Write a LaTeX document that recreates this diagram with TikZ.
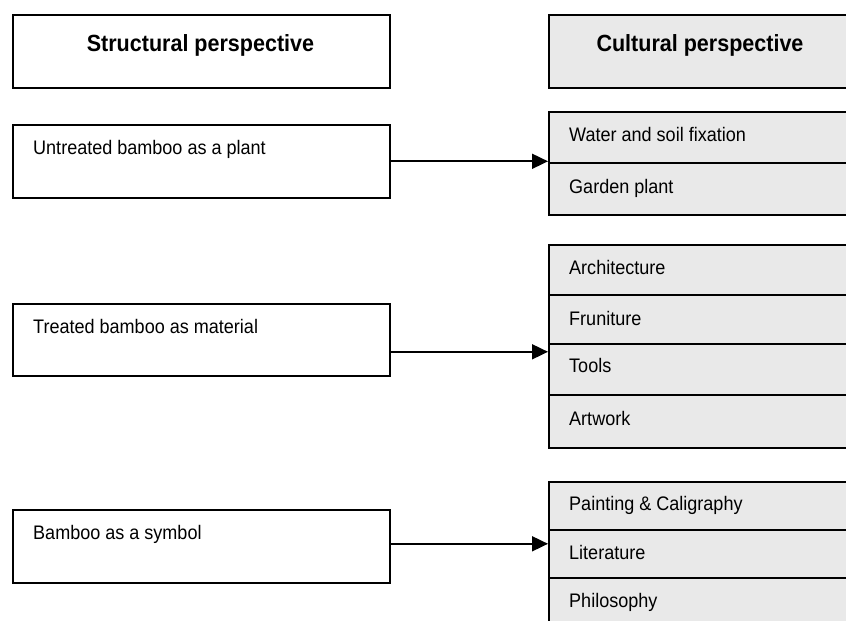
\documentclass[tikz,border=0pt]{standalone}
\usepackage{fontspec}
\setmainfont{Liberation Sans}[FakeStretch=0.92]
\usetikzlibrary{arrows.meta}
\definecolor{cellgray}{RGB}{233,233,233}
\tikzset{
  hbox/.style={draw=black, line width=2.2pt, rectangle, inner sep=0pt, anchor=north west},
  lbox/.style={draw=black, line width=1.6pt, rectangle, inner sep=0pt, anchor=north west, fill=white},
  cellbox/.style={draw=black, line width=1.6pt, rectangle, inner sep=0pt, anchor=north west, fill=cellgray, minimum width=304pt},
  htxt/.style={inner sep=0pt, anchor=base, font=\fontsize{23.4}{26}\selectfont\bfseries},
  btxt/.style={inner sep=0pt, anchor=base west, font=\fontsize{19.6}{23}\selectfont},
  arr/.style={line width=1.8pt, -{Triangle[length=16pt,width=15pt]}, shorten >=0pt}
}
\begin{document}
\begin{tikzpicture}[x=1pt,y=-1pt]
\useasboundingbox (0,0) rectangle (846,621);
\clip (0,0) rectangle (846,621);
% headers
\node[hbox, minimum width=377pt, minimum height=73pt] (hs) at (12,14) {};
\node[hbox, fill=cellgray, minimum width=304pt, minimum height=73pt] (hc) at (548,14) {};
\node[htxt] (hst) at (200.5,51) {Structural perspective};
\node[htxt] (hct) at (700,51) {Cultural perspective};
% left boxes
\node[lbox, minimum width=377pt, minimum height=73pt] (l1) at (12,124) {};
\node[lbox, minimum width=377pt, minimum height=72pt] (l2) at (12,303) {};
\node[lbox, minimum width=377pt, minimum height=73pt] (l3) at (12,509) {};
\node[btxt] (l1t) at (33,154) {Untreated bamboo as a plant};
\node[btxt] (l2t) at (33,333) {Treated bamboo as material};
\node[btxt] (l3t) at (33,539) {Bamboo as a symbol};
% group 1
\node[cellbox, minimum height=51pt] (a1) at (548,111) {};
\node[cellbox, minimum height=52pt] (a2) at (548,162) {};
\node[btxt] (a1t) at (569,141) {Water and soil fixation};
\node[btxt] (a2t) at (569,193) {Garden plant};
% group 2
\node[cellbox, minimum height=50pt] (b1) at (548,244) {};
\node[cellbox, minimum height=49pt] (b2) at (548,294) {};
\node[cellbox, minimum height=51pt] (b3) at (548,343) {};
\node[cellbox, minimum height=53pt] (b4) at (548,394) {};
\node[btxt] (b1t) at (569,274) {Architecture};
\node[btxt] (b2t) at (569,325) {Fruniture};
\node[btxt] (b3t) at (569,372) {Tools};
\node[btxt] (b4t) at (569,425) {Artwork};
% group 3
\node[cellbox, minimum height=48pt] (c1) at (548,481) {};
\node[cellbox, minimum height=48pt] (c2) at (548,529) {};
\node[cellbox, minimum height=60pt] (c3) at (548,577) {};
\node[btxt] (c1t) at (569,510) {Painting \& Caligraphy};
\node[btxt] (c2t) at (569,559) {Literature};
\node[btxt] (c3t) at (569,607) {Philosophy};
% arrows
\draw[arr] (l1.east) -- (l1.east -| a2.west);
\draw[arr] ([yshift=-12pt]l2.east) -- ([yshift=-12pt]l2.east -| b3.west);
\draw[arr] ([yshift=2.5pt]l3.east) -- ([yshift=2.5pt]l3.east -| c2.west);
\end{tikzpicture}
\end{document}
